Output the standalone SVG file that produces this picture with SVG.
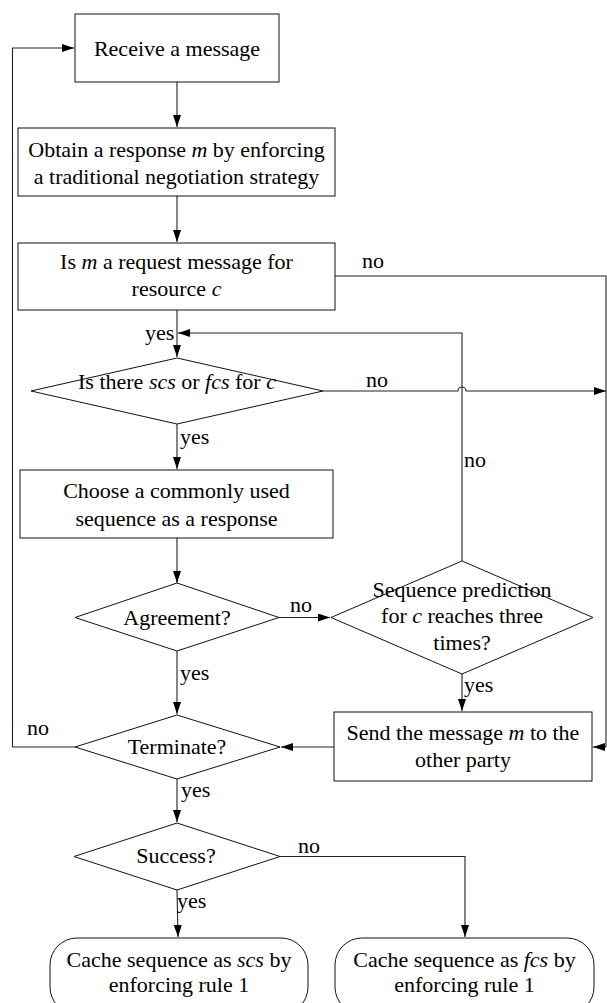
<svg xmlns="http://www.w3.org/2000/svg" width="607" height="1003" viewBox="0 0 607 1003">
<style>
text{font-family:"Liberation Serif","Times New Roman",serif;font-size:22px;fill:#000}
.c{text-anchor:middle}
.i{font-style:italic}
.n{fill:#fff;stroke:#111;stroke-width:1}
.e{fill:none;stroke:#222;stroke-width:1.1}
</style>
<defs>
<marker id="ah" markerUnits="userSpaceOnUse" markerWidth="12" markerHeight="8" refX="12" refY="4" orient="auto">
<path d="M0,0 L12,4 L0,8 z" fill="#000"/>
</marker>
</defs>
<g id="connectors">
<path class="e" d="M177,82 V127" marker-end="url(#ah)"/>
<path class="e" d="M177,196 V242" marker-end="url(#ah)"/>
<path class="e" d="M177,310 V357" marker-end="url(#ah)"/>
<path class="e" d="M335,276 H606 V747 H593" marker-end="url(#ah)"/>
<path class="e" d="M323,391 H458 A4,4 0 0 1 466,391 H606" marker-end="url(#ah)"/>
<path class="e" d="M177,424 V469" marker-end="url(#ah)"/>
<path class="e" d="M177,538 V583" marker-end="url(#ah)"/>
<path class="e" d="M279,617.5 H330" marker-end="url(#ah)"/>
<path class="e" d="M177,651 V714" marker-end="url(#ah)"/>
<path class="e" d="M462,561 V333 H178" marker-end="url(#ah)"/>
<path class="e" d="M462,674 V711" marker-end="url(#ah)"/>
<path class="e" d="M334,747 H281" marker-end="url(#ah)"/>
<path class="e" d="M75,747 H12.5 V48 H74" marker-end="url(#ah)"/>
<path class="e" d="M177,779 V822" marker-end="url(#ah)"/>
<path class="e" d="M280,856.5 H465 V937" marker-end="url(#ah)"/>
<path class="e" d="M177,890 L178,937" marker-end="url(#ah)"/>
<text x="362" y="268">no</text>
<text x="145" y="340">yes</text>
<text x="366" y="387">no</text>
<text x="180" y="444">yes</text>
<text x="464" y="467">no</text>
<text x="290" y="612">no</text>
<text x="180" y="680">yes</text>
<text x="464" y="692">yes</text>
<text x="27" y="735">no</text>
<text x="181" y="797">yes</text>
<text x="298" y="853">no</text>
<text x="177" y="908">yes</text>
</g>
<g id="receive">
<rect class="n" x="75" y="14" width="204" height="68"/>
<text class="c" x="177" y="56">Receive a message</text>
</g>
<g id="obtain">
<rect class="n" x="18" y="128" width="317" height="68"/>
<text class="c" x="176.5" y="157">Obtain a response <tspan class="i">m</tspan> by enforcing</text>
<text class="c" x="176.5" y="184">a traditional negotiation strategy</text>
</g>
<g id="isrequest">
<rect class="n" x="18" y="243" width="317" height="67"/>
<text class="c" x="176.5" y="269">Is <tspan class="i">m</tspan> a request message for</text>
<text class="c" x="176.5" y="296">resource <tspan class="i">c</tspan></text>
</g>
<g id="isthere">
<polygon class="n" points="177,358 323,391 177,424 31,391"/>
<text class="c" x="177" y="389">Is there <tspan class="i">scs</tspan> or <tspan class="i">fcs</tspan> for <tspan class="i">c</tspan></text>
</g>
<g id="choose">
<rect class="n" x="20" y="470" width="313" height="68"/>
<text class="c" x="176.5" y="498">Choose a commonly used</text>
<text class="c" x="176.5" y="526">sequence as a response</text>
</g>
<g id="agreement">
<polygon class="n" points="177,583 279,617.5 177,651 75,617.5"/>
<text class="c" x="177" y="625">Agreement?</text>
</g>
<g id="prediction">
<polygon class="n" points="462,561 593,617.5 462,674 331,617.5"/>
<text class="c" x="462" y="597">Sequence prediction</text>
<text class="c" x="462" y="623">for <tspan class="i">c</tspan> reaches three</text>
<text class="c" x="462" y="650">times?</text>
</g>
<g id="send">
<rect class="n" x="334" y="712" width="258" height="69"/>
<text class="c" x="463" y="740">Send the message <tspan class="i">m</tspan> to the</text>
<text class="c" x="463" y="767">other party</text>
</g>
<g id="terminate">
<polygon class="n" points="177,715 280,747 177,779 75,747"/>
<text class="c" x="177" y="754">Terminate?</text>
</g>
<g id="success">
<polygon class="n" points="177,823 280,856.5 177,890 74,856.5"/>
<text class="c" x="176" y="863">Success?</text>
</g>
<g id="cachescs">
<rect class="n" x="50" y="938" width="258" height="76" rx="27" ry="27"/>
<text class="c" x="179" y="967">Cache sequence as <tspan class="i">scs</tspan> by</text>
<text class="c" x="179" y="992">enforcing rule 1</text>
</g>
<g id="cachefcs">
<rect class="n" x="335" y="938" width="259" height="76" rx="27" ry="27"/>
<text class="c" x="464.5" y="967">Cache sequence as <tspan class="i">fcs</tspan> by</text>
<text class="c" x="464.5" y="992">enforcing rule 1</text>
</g>
</svg>
